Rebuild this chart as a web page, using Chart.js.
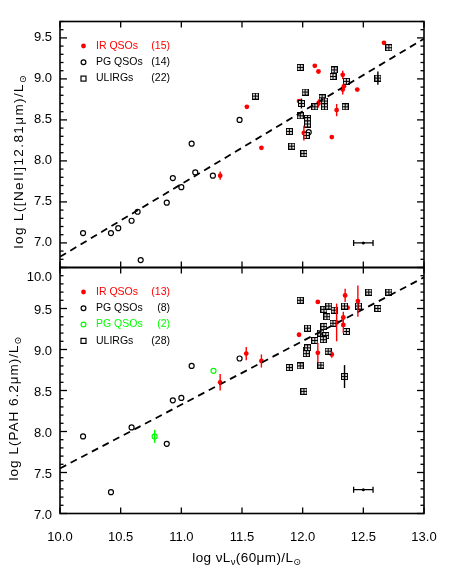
<!DOCTYPE html>
<html>
<head>
<meta charset="utf-8">
<script src="https://cdn.jsdelivr.net/npm/chart.js@4.4.1/dist/chart.umd.min.js"></script>
<style>
  html, body { margin: 0; padding: 0; background: #fff; }
  #wrap { position: relative; width: 457px; height: 571px; }
  #wrap canvas { position: absolute; left: 0; top: 0; }
</style>
</head>
<body>
<div id="wrap">
  <canvas id="topChart" width="457" height="571" style="width:457px;height:571px"></canvas>
  <canvas id="bottomChart" width="457" height="571" style="width:457px;height:571px"></canvas>
</div>
<script>
// Axis ticks
const X_TICKS = [10.0, 10.5, 11.0, 11.5, 12.0, 12.5, 13.0]
const Y_TICKS_TOP = [7.0, 7.5, 8.0, 8.5, 9.0, 9.5]
const Y_TICKS_BOT = [7.0, 7.5, 8.0, 8.5, 9.0, 9.5, 10.0]

// Top panel: [NeII] 12.81um
const irTopX = [11.32, 11.54, 11.66, 11.97, 12.01, 12.10, 12.13, 12.13, 12.24, 12.28, 12.33, 12.34, 12.33, 12.45, 12.67]
const irTopY = [7.82, 8.66, 8.16, 8.73, 8.34, 9.16, 9.09, 8.70, 8.29, 8.62, 9.05, 8.91, 8.87, 8.87, 9.44]
const irTopErr = [0.05, 0, 0, 0, 0.09, 0, 0, 0.05, 0, 0.075, 0.05, 0.03, 0.06, 0, 0]

const pgTopX = [10.19, 10.42, 10.48, 10.59, 10.64, 10.665, 10.88, 10.93, 11.0, 11.085, 11.115, 11.26, 11.48, 12.05]
const pgTopY = [7.12, 7.12, 7.18, 7.27, 7.38, 6.79, 7.49, 7.79, 7.68, 8.21, 7.86, 7.82, 8.50, 8.35]

const ulTopX = [11.61, 11.89, 11.91, 11.98, 11.98, 11.99, 12.01, 12.02, 12.03, 12.04, 12.04, 12.04, 12.10, 12.16, 12.18, 12.18, 12.25, 12.26, 12.35, 12.36, 12.62, 12.71]
const ulTopY = [8.79, 8.36, 8.18, 9.14, 8.55, 8.70, 8.09, 8.84, 8.31, 8.52, 8.49, 8.45, 8.66, 8.77, 8.73, 8.66, 9.03, 9.11, 8.66, 8.97, 9.01, 9.38]
const ulTopErr = [0, 0, 0, 0, 0, 0.06, 0, 0, 0, 0, 0, 0, 0, 0, 0, 0, 0, 0, 0, 0, 0.08, 0]

const fitX = [10.0, 13.0]
const fitTopY = [6.83, 9.49]
const typTopX = [12.5]
const typTopY = [7.0]
const typTopXErr = [0.08]

// Bottom panel: PAH 6.2um
const irBotX = [11.32, 11.535, 11.66, 11.97, 12.125, 12.125, 12.24, 12.28, 12.335, 12.335, 12.35, 12.37, 12.455]
const irBotY = [8.60, 8.95, 8.86, 9.18, 9.58, 8.96, 8.94, 9.33, 9.39, 9.30, 9.66, 9.51, 9.59]
const irBotErr = [0.10, 0.08, 0.08, 0, 0, 0.12, 0.04, 0.23, 0.07, 0.10, 0.08, 0, 0.19]

const pgBotX = [10.19, 10.42, 10.59, 10.88, 10.93, 11.0, 11.085, 11.48]
const pgBotY = [7.94, 7.26, 8.05, 7.85, 8.38, 8.41, 8.80, 8.89]

const pgGreenX = [10.78, 11.265]
const pgGreenY = [7.94, 8.74]
const pgGreenErr = [0.08, 0]

const ulBotX = [11.89, 11.98, 12.01, 11.98, 12.04, 12.10, 12.03, 12.04, 12.03, 12.15, 12.15, 12.175, 12.19, 12.175, 12.175, 12.215, 12.20, 12.26, 12.21, 12.25, 12.36, 12.345, 12.46, 12.545, 12.71, 12.62, 12.345, 12.17]
const ulBotY = [8.78, 8.80, 8.49, 9.60, 9.26, 9.11, 8.99, 9.02, 8.95, 8.81, 9.20, 9.15, 9.17, 9.28, 9.49, 9.53, 9.40, 9.48, 8.98, 9.32, 9.22, 9.53, 9.53, 9.70, 9.70, 9.50, 8.67, 9.12]
const ulBotErr = [0, 0, 0, 0, 0, 0, 0, 0, 0, 0, 0, 0, 0, 0, 0, 0, 0, 0, 0, 0, 0, 0, 0, 0, 0, 0, 0.14, 0]

const fitBotY = [7.55, 9.88]
const typBotX = [12.5]
const typBotY = [7.29]
const typBotXErr = [0.08]

const FAMILY = "'Liberation Sans', Arial, Helvetica, 'DejaVu Sans', sans-serif"
const RED = "#ff0000"
const GREEN = "#00ff00"

const Chart = window.Chart

function pts(xs, ys) {
  return xs.map((x, i) => ({ x: x, y: ys[i] }))
}

// ULIRG symbol: square with a cross inside
function makeSquareIcon() {
  const c = document.createElement("canvas")
  c.width = 7
  c.height = 7
  const g = c.getContext("2d")
  g.fillStyle = "#000"
  g.fillRect(0, 0, 7, 7)
  g.fillStyle = "#d8d8d8"
  g.fillRect(1, 1, 2, 2)
  g.fillRect(4, 1, 2, 2)
  g.fillRect(1, 4, 2, 2)
  g.fillRect(4, 4, 2, 2)
  return c
}
const squareIcon = makeSquareIcon()

// text with subscripts, optionally rotated
function drawRich(ctx, segs, cx, cy, rotate, spacing) {
  ctx.save()
  ctx.translate(cx, cy)
  if (rotate) ctx.rotate(-Math.PI / 2)
  const main = "13.5px " + FAMILY
  const small = "9.5px " + FAMILY
  ctx.letterSpacing = spacing + "px"
  let w = 0
  segs.forEach((s) => {
    ctx.font = s.sub ? small : main
    w += ctx.measureText(s.t).width
  })
  let x = -w / 2
  ctx.fillStyle = "#000"
  ctx.textBaseline = "alphabetic"
  segs.forEach((s) => {
    ctx.font = s.sub ? small : main
    ctx.fillText(s.t, x, s.sub ? 7.5 : 4.5)
    x += ctx.measureText(s.t).width
  })
  ctx.restore()
}

// error bars (vertical for data, horizontal with caps for the typical bar)
const errorBarPlugin = {
  id: "errorBars",
  afterDatasetsDraw(chart) {
    const ctx = chart.ctx
    const xs = chart.scales.x
    const ys = chart.scales.y
    ctx.save()
    chart.data.datasets.forEach((ds) => {
      if (ds.yErr) {
        ctx.strokeStyle = ds.errColor
        ctx.lineWidth = 1.4
        ds.data.forEach((p, i) => {
          const e = ds.yErr[i]
          if (!e) return
          const px = xs.getPixelForValue(p.x)
          ctx.beginPath()
          ctx.moveTo(px, ys.getPixelForValue(p.y - e))
          ctx.lineTo(px, ys.getPixelForValue(p.y + e))
          ctx.stroke()
        })
      }
      if (ds.xErr) {
        ctx.strokeStyle = "#000"
        ctx.lineWidth = 1.3
        ds.data.forEach((p, i) => {
          const e = ds.xErr[i]
          const py = ys.getPixelForValue(p.y)
          const x0 = xs.getPixelForValue(p.x - e)
          const x1 = xs.getPixelForValue(p.x + e)
          ctx.beginPath()
          ctx.moveTo(x0, py)
          ctx.lineTo(x1, py)
          ctx.moveTo(x0, py - 3)
          ctx.lineTo(x0, py + 3)
          ctx.moveTo(x1, py - 3)
          ctx.lineTo(x1, py + 3)
          ctx.stroke()
        })
      }
    })
    ctx.restore()
  },
}

// IDL-like frame with inward ticks on all four sides
const framePlugin = {
  id: "frame",
  afterDraw(chart) {
    const { ctx, chartArea: a, scales } = chart
    const line = (x0, y0, x1, y1) => {
      ctx.beginPath()
      ctx.moveTo(x0, y0)
      ctx.lineTo(x1, y1)
      ctx.stroke()
    }
    ctx.save()
    ctx.strokeStyle = "#000"
    ctx.lineWidth = 1.3
    X_TICKS.forEach((v) => {
      const px = scales.x.getPixelForValue(v)
      line(px, a.bottom, px, a.bottom - 6)
      line(px, a.top, px, a.top + 6)
    })
    const ys = scales.y
    for (let k = Math.ceil(ys.min * 10 - 1e-6); k <= Math.floor(ys.max * 10 + 1e-6); k++) {
      const len = k % 5 === 0 ? 7 : 3.5
      const py = ys.getPixelForValue(k / 10)
      line(a.left, py, a.left + len, py)
      line(a.right, py, a.right - len, py)
    }
    ctx.lineWidth = 1.6
    ctx.strokeRect(a.left, a.top, a.right - a.left, a.bottom - a.top)
    ctx.restore()
  },
}

function legendPlugin(entries) {
  return {
    id: "panelLegend",
    afterDraw(chart) {
      const { ctx, chartArea: a } = chart
      ctx.save()
      ctx.font = "10.5px " + FAMILY
      ctx.textBaseline = "middle"
      entries.forEach((e, i) => {
        const y = a.top + 24.5 + i * 16.3
        const mx = 83.5
        if (e.marker === "dot") {
          ctx.fillStyle = e.color
          ctx.beginPath()
          ctx.arc(mx, y, 2.4, 0, Math.PI * 2)
          ctx.fill()
        } else if (e.marker === "ring") {
          ctx.strokeStyle = e.color
          ctx.lineWidth = 1.2
          ctx.beginPath()
          ctx.arc(mx, y, 2.4, 0, Math.PI * 2)
          ctx.stroke()
        } else {
          ctx.strokeStyle = "#000"
          ctx.lineWidth = 1.2
          ctx.strokeRect(mx - 2.5, y - 2.5, 5, 5)
        }
        ctx.fillStyle = e.textColor
        ctx.textAlign = "left"
        ctx.fillText(e.label, 96, y)
        ctx.textAlign = "right"
        ctx.fillText(e.count, 170, y)
      })
      ctx.restore()
    },
  }
}

function titlePlugin(draws) {
  return {
    id: "titles",
    afterDraw(chart) {
      draws.forEach((d) => drawRich(chart.ctx, d.segs, d.x, d.y, d.rotate, d.spacing))
    },
  }
}

function scatterSet(xs, ys, kind, color, err) {
  const ds = {
    data: pts(xs, ys),
    showLine: false,
    pointHitRadius: 0,
  }
  if (kind === "square") {
    ds.pointStyle = squareIcon
    ds.pointRadius = 3.5
  } else if (kind === "ring") {
    ds.pointStyle = "circle"
    ds.pointRadius = 2.5
    ds.borderWidth = 1.2
    ds.borderColor = color
    ds.backgroundColor = "rgba(0,0,0,0)"
  } else {
    ds.pointStyle = "circle"
    ds.pointRadius = 2.4
    ds.borderWidth = 0
    ds.borderColor = color
    ds.backgroundColor = color
  }
  if (err) {
    ds.yErr = err
    ds.errColor = color
  }
  return ds
}

function fitSet(ys) {
  return {
    data: pts(fitX, ys),
    showLine: true,
    borderColor: "#000",
    borderWidth: 1.8,
    borderDash: [7, 5],
    pointRadius: 0,
    fill: false,
  }
}

function typicalSet(xs, ys, xerr) {
  return {
    data: pts(xs, ys),
    xErr: xerr,
    pointStyle: "circle",
    pointRadius: 1.5,
    borderWidth: 0,
    backgroundColor: "#000",
  }
}

function baseOptions(padding, yMin, yMax, yTicks, showX, yLabelOffset) {
  const tickFont = { family: FAMILY, size: 13 }
  return {
    responsive: false,
    animation: false,
    devicePixelRatio: 1,
    events: [],
    layout: { padding: padding },
    plugins: { legend: { display: false }, tooltip: { enabled: false } },
    scales: {
      x: {
        type: "linear",
        min: 10,
        max: 13,
        display: showX,
        afterBuildTicks: (s) => {
          s.ticks = X_TICKS.map((v) => ({ value: v }))
        },
        afterFit: (s) => {
          s.height = showX ? 57.5 : 0
        },
        grid: { display: false, drawTicks: false },
        border: { display: false },
        ticks: {
          font: tickFont,
          color: "#000",
          padding: 16,
          maxRotation: 0,
          autoSkip: false,
          callback: (v) => Number(v).toFixed(1),
        },
      },
      y: {
        type: "linear",
        min: yMin,
        max: yMax,
        afterBuildTicks: (s) => {
          s.ticks = yTicks.map((v) => ({ value: v }))
        },
        afterFit: (s) => {
          s.width = 60
        },
        grid: { display: false, drawTicks: false },
        border: { display: false },
        ticks: {
          font: tickFont,
          color: "#000",
          padding: 8,
          labelOffset: yLabelOffset,
          autoSkip: false,
          // the label at the panel's top edge sits just below the frame, as in the original
          callback: (v) => (v === yMax ? ["", Number(v).toFixed(1)] : Number(v).toFixed(1)),
        },
      },
    },
  }
}

// Top chart
new Chart(document.getElementById("topChart"), {
  type: "scatter",
  data: {
    datasets: [
      fitSet(fitTopY),
      scatterSet(ulTopX, ulTopY, "square", "#000", ulTopErr),
      scatterSet(irTopX, irTopY, "dot", RED, irTopErr),
      scatterSet(pgTopX, pgTopY, "ring", "#000"),
      typicalSet(typTopX, typTopY, typTopXErr),
    ],
  },
  options: baseOptions({ left: 0, right: 33, top: 21.5, bottom: 303.5 }, 6.7, 9.7, Y_TICKS_TOP, false, 0),
  plugins: [
    errorBarPlugin,
    framePlugin,
    legendPlugin([
      { label: "IR QSOs", count: "(" + irTopX.length + ")", marker: "dot", color: RED, textColor: RED },
      { label: "PG QSOs", count: "(" + pgTopX.length + ")", marker: "ring", color: "#000", textColor: "#000" },
      { label: "ULIRGs", count: "(" + ulTopX.length + ")", marker: "square", color: "#000", textColor: "#000" },
    ]),
    titlePlugin([
      {
        segs: [{ t: "log L([NeII]12.81μm)/L" }, { t: "⊙", sub: true }],
        x: 18.5,
        y: 161,
        rotate: true,
        spacing: 1.4,
      },
    ]),
  ],
})

// Bottom chart
new Chart(document.getElementById("bottomChart"), {
  type: "scatter",
  data: {
    datasets: [
      fitSet(fitBotY),
      scatterSet(ulBotX, ulBotY, "square", "#000", ulBotErr),
      scatterSet(irBotX, irBotY, "dot", RED, irBotErr),
      scatterSet(pgBotX, pgBotY, "ring", "#000"),
      scatterSet(pgGreenX, pgGreenY, "ring", GREEN, pgGreenErr),
      typicalSet(typBotX, typBotY, typBotXErr),
    ],
  },
  options: baseOptions({ left: 0, right: 33, top: 267.5, bottom: 0 }, 7.0, 10.0, Y_TICKS_BOT, true, 2),
  plugins: [
    errorBarPlugin,
    framePlugin,
    legendPlugin([
      { label: "IR QSOs", count: "(" + irBotX.length + ")", marker: "dot", color: RED, textColor: RED },
      { label: "PG QSOs", count: "(" + pgBotX.length + ")", marker: "ring", color: "#000", textColor: "#000" },
      { label: "PG QSOs", count: "(" + pgGreenX.length + ")", marker: "ring", color: GREEN, textColor: GREEN },
      { label: "ULIRGs", count: "(" + ulBotX.length + ")", marker: "square", color: "#000", textColor: "#000" },
    ]),
    titlePlugin([
      {
        segs: [{ t: "log L(PAH 6.2μm)/L" }, { t: "⊙", sub: true }],
        x: 13,
        y: 408,
        rotate: true,
        spacing: 1.0,
      },
      {
        segs: [{ t: "log νL" }, { t: "ν", sub: true }, { t: "(60μm)/L" }, { t: "⊙", sub: true }],
        x: 247,
        y: 557,
        rotate: false,
        spacing: 0.4,
      },
    ]),
  ],
})
</script>
</body>
</html>
